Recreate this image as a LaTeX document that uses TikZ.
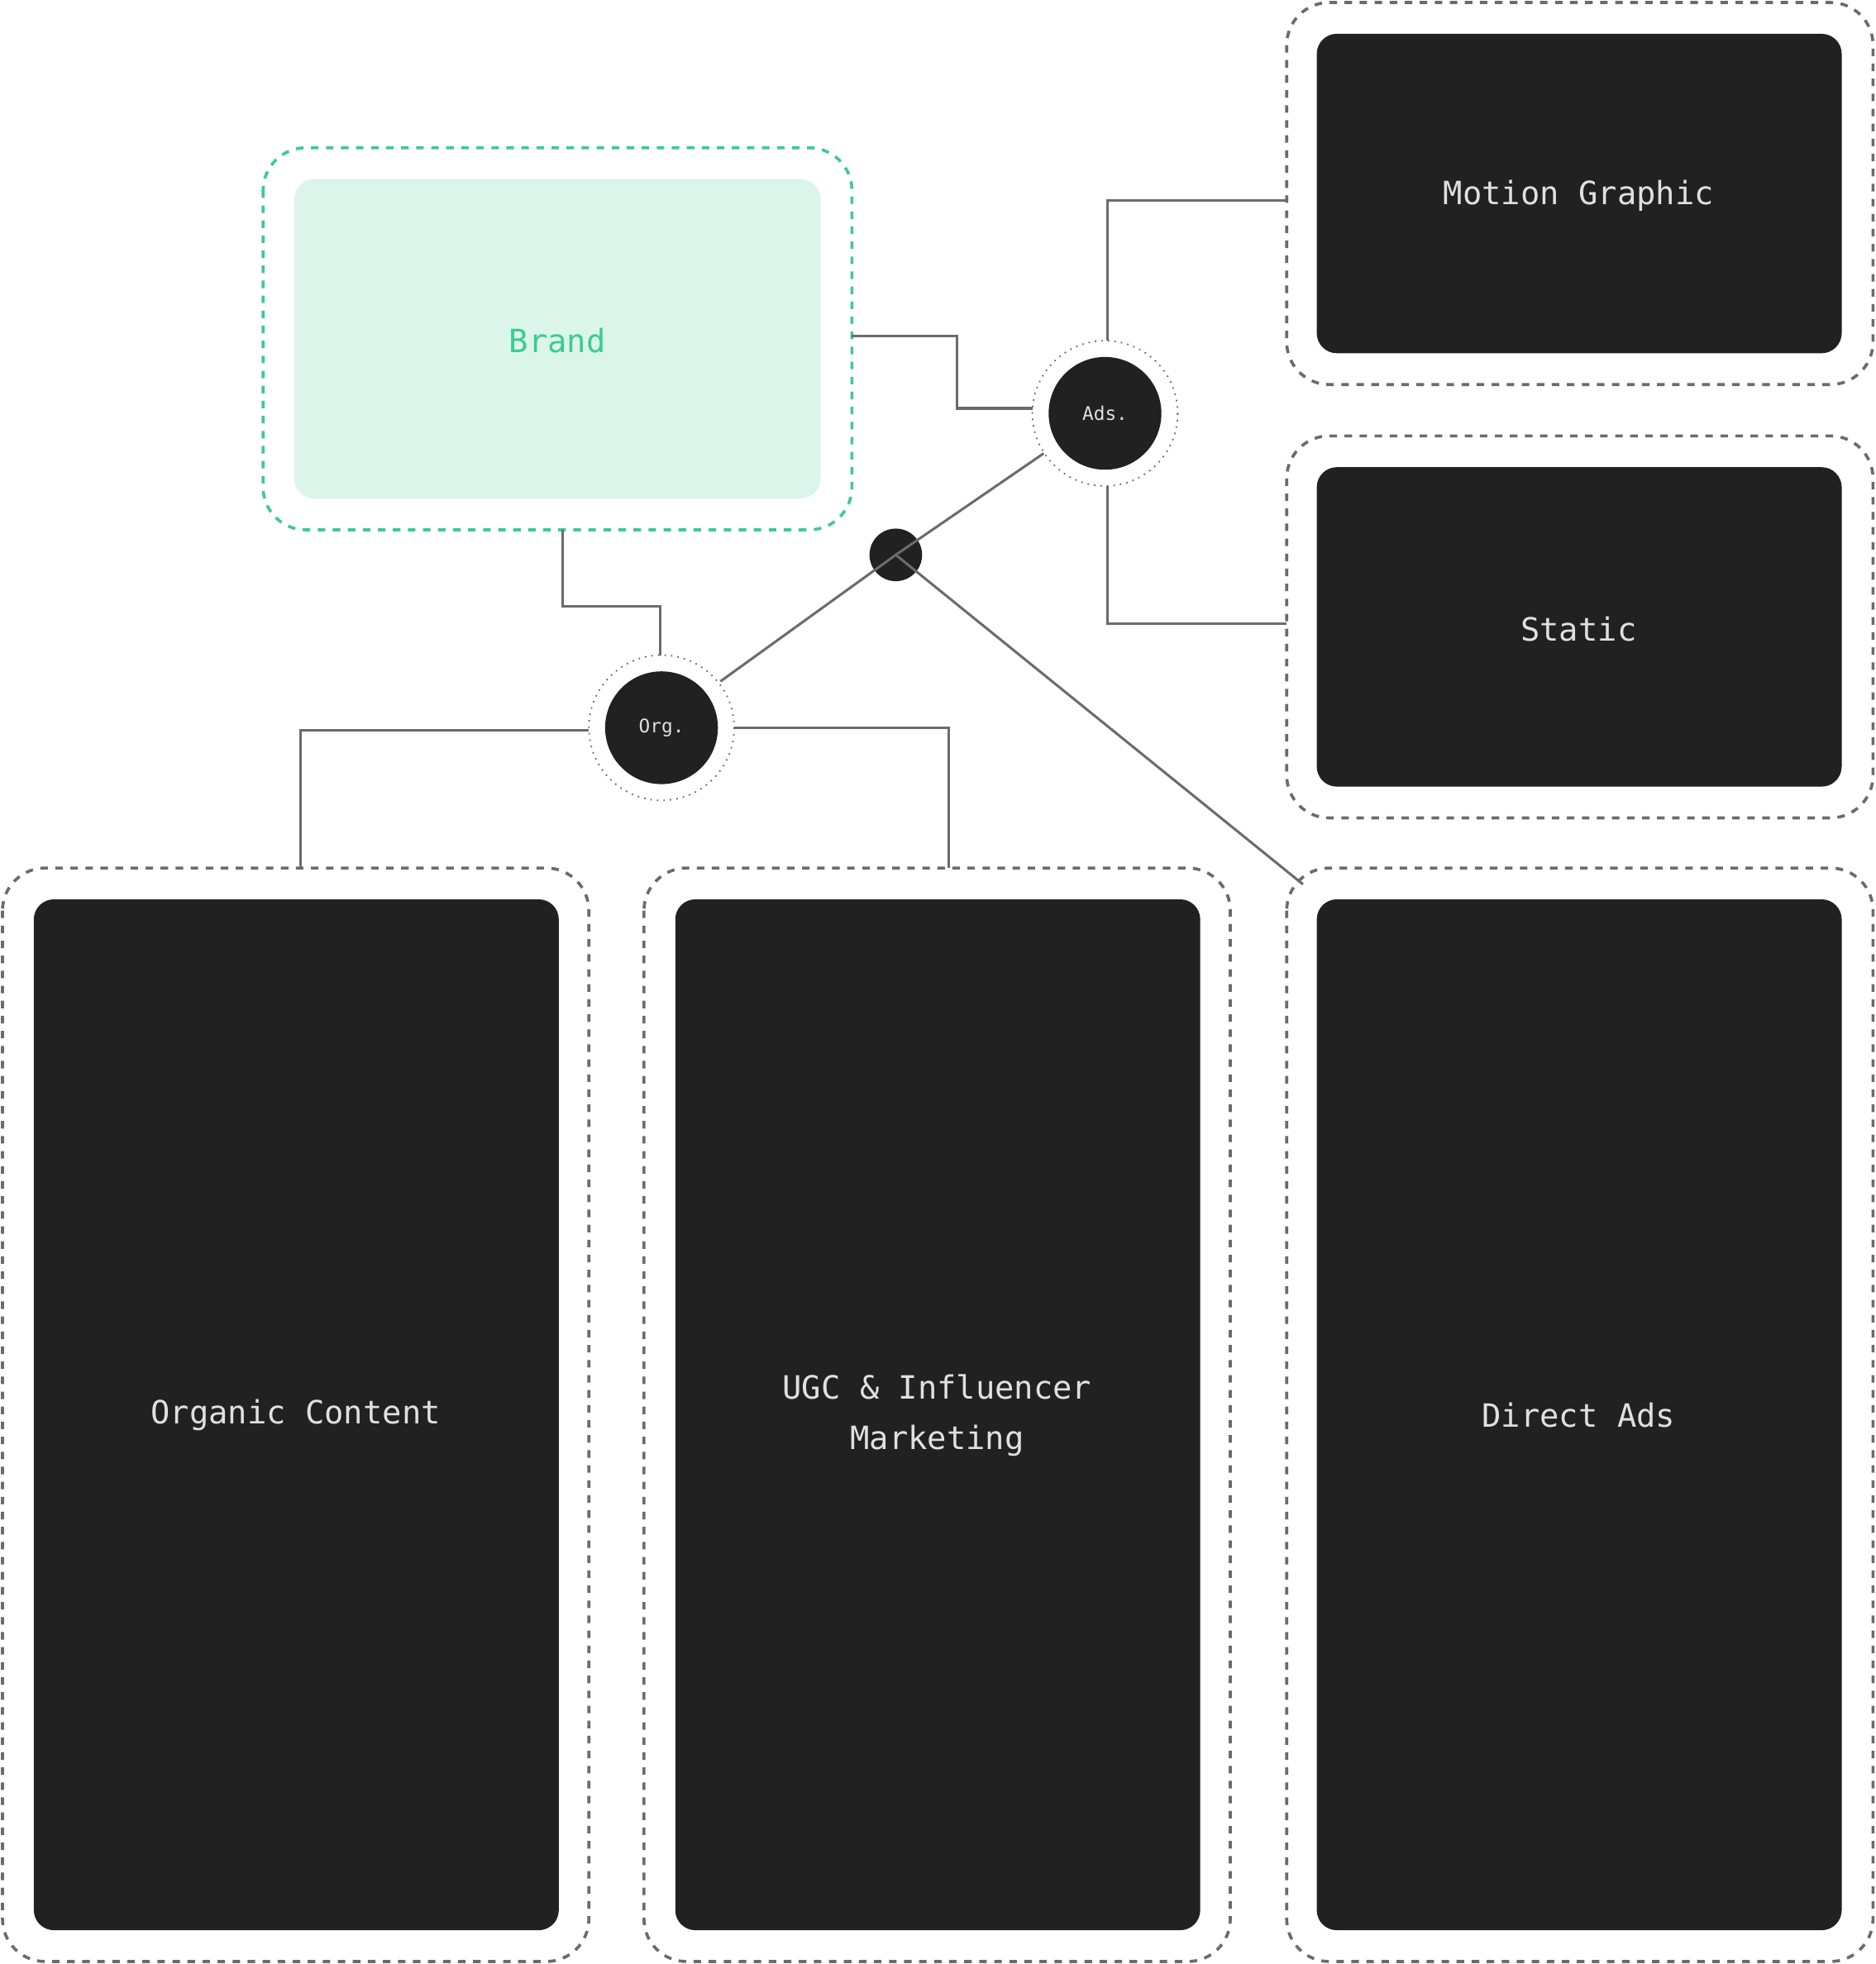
\documentclass[tikz,border=0pt]{standalone}
\usepackage{fontspec}
\setmonofont{DejaVu Sans Mono}
\definecolor{dark}{HTML}{212121}
\definecolor{ln}{HTML}{6B6B6B}
\definecolor{grn}{HTML}{3CCB92}
\definecolor{lgrn}{HTML}{DBF5EA}
\definecolor{txt}{HTML}{E0E0E0}
\begin{document}
\begin{tikzpicture}[x=0.5pt,y=-0.5pt,
 outerbox/.style={draw=ln,dashed,line width=1.2pt,rounded corners=17pt},
 innerbox/.style={fill=dark,rounded corners=8pt},
 lbl/.style={text=txt,font=\ttfamily\fontsize{12.8}{20}\selectfont,align=center},
 conn/.style={draw=ln,line width=1pt},
 small/.style={text=txt,font=\ttfamily\fontsize{7.5}{9}\selectfont}]
\useasboundingbox (0,0) rectangle (1497,1568);
% boxes
\draw[outerbox,draw=grn] (210,118) rectangle (680,423);
\fill[lgrn,rounded corners=8pt] (235,143) rectangle (655,398);
\node[lbl,text=grn] (brand) at (445,272) {Brand};
\draw[outerbox] (1027,2) rectangle (1495,307);
\fill[innerbox] (1051,27) rectangle (1470,282);
\node[lbl] (mg) at (1260,156) {Motion Graphic};
\draw[outerbox] (1027,348) rectangle (1495,653);
\fill[innerbox] (1051,373) rectangle (1470,628);
\node[lbl] (st) at (1260,502) {Static};
\draw[outerbox] (2,693) rectangle (470,1566);
\fill[innerbox] (27,718) rectangle (446,1541);
\node[lbl] (oc) at (236,1130) {Organic Content};
\draw[outerbox] (514,693) rectangle (982,1566);
\fill[innerbox] (539,718) rectangle (958,1541);
\node[lbl] (ugc) at (748,1130) {UGC \& Influencer\\Marketing};
\draw[outerbox] (1027,693) rectangle (1495,1566);
\fill[innerbox] (1051,718) rectangle (1470,1541);
\node[lbl] (da) at (1260,1130) {Direct Ads};
% circles
\draw[ln,dotted,line width=0.6pt] (882,330) circle (58);
\fill[dark] (882,330) circle (45);
\node[small] (ads) at (882,330) {Ads.};
\draw[ln,dotted,line width=0.6pt] (528,581) circle (58);
\fill[dark] (528,581) circle (45);
\node[small] (org) at (528,581) {Org.};
\fill[dark] (715,443) circle (21);
\coordinate (hub) at (715,443);
% connectors
\draw[conn] (680,268) -- (764,268) -- (764,326) -- (824,326);
\draw[conn] (884,272) -- (884,160) -- (1027,160);
\draw[conn] (884,388) -- (884,498) -- (1027,498);
\draw[conn] (449,423) -- (449,484) -- (527,484) -- (527,523);
\draw[conn] (470,583) -- (240,583) -- (240,693);
\draw[conn] (586,581) -- (757,581) -- (757,693);
\draw[conn] (hub) -- (833,362);
\draw[conn] (hub) -- (575,544);
\draw[conn] (hub) -- (1040,706);
\end{tikzpicture}
\end{document}
